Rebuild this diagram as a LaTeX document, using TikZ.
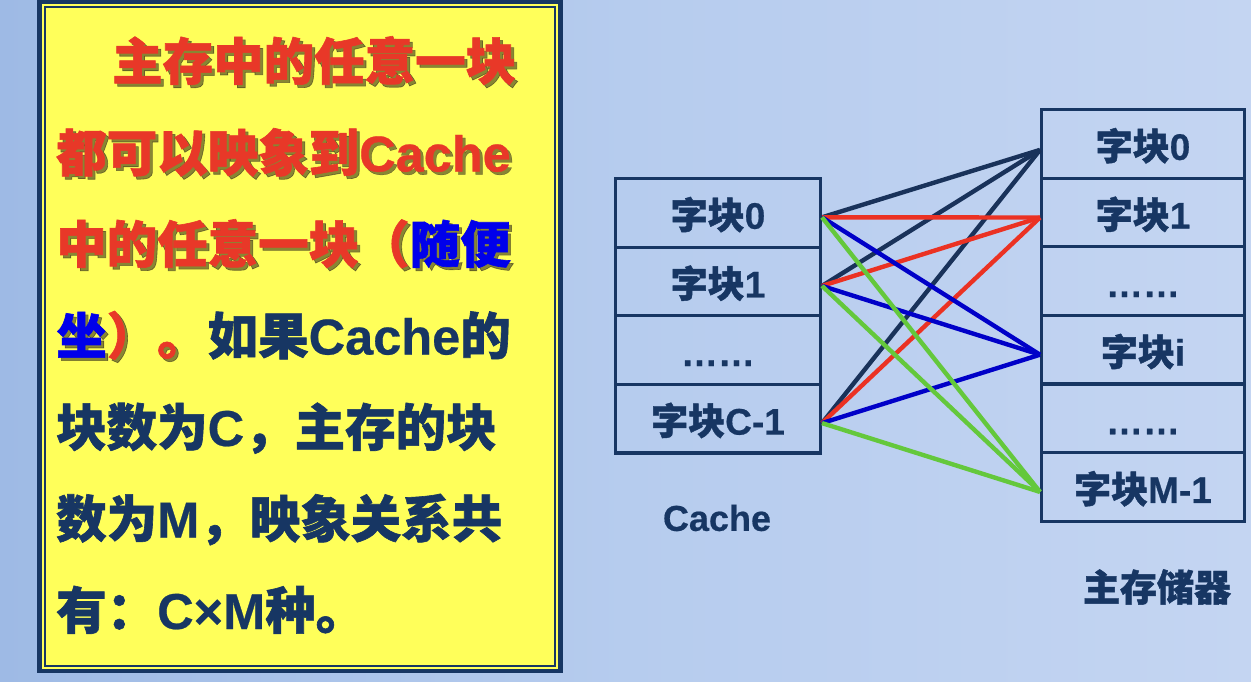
\documentclass[tikz,border=0pt]{standalone}
\usepackage{fontspec}
\setmainfont{Noto Sans CJK SC}[BoldFeatures={FakeBold=1.2}]
\newfontfamily\lat{Liberation Sans}[BoldFeatures={FakeBold=0.5}]

\definecolor{navy}{RGB}{23,54,99}
\definecolor{notered}{RGB}{232,56,40}
\definecolor{noteblue}{RGB}{0,0,235}
\definecolor{noteyellow}{RGB}{255,255,90}
\definecolor{shadowc}{RGB}{40,35,20}
\definecolor{linkred}{RGB}{235,50,35}
\definecolor{linkblue}{RGB}{0,0,200}
\definecolor{linkgreen}{RGB}{100,200,60}
\definecolor{linknavy}{RGB}{25,50,90}
\definecolor{bgleft}{RGB}{158,186,229}
\definecolor{bgmid}{RGB}{182,204,238}
\definecolor{bgright}{RGB}{196,213,242}

% coloured text pieces; in the shadow pass red/blue become the shadow, navy is skipped
\newif\ifshadowpass
\newcommand\rd[1]{\ifshadowpass\textcolor{shadowc}{#1}\else\textcolor{notered}{#1}\fi}
\newcommand\bl[1]{\ifshadowpass\textcolor{shadowc}{#1}\else\textcolor{noteblue}{#1}\fi}
\newcommand\nv[1]{\ifshadowpass\phantom{#1}\else\textcolor{navy}{#1}\fi}

\tikzset{
  cell/.style={draw=navy, line width=3.2pt, inner sep=0pt,
    minimum height=68.6pt, text=navy,
    font=\bfseries\fontsize{37}{37}\selectfont,
    text height=32pt, text depth=0pt},
  cachecell/.style={cell, minimum width=204.8pt},
  memcell/.style={cell, minimum width=202.8pt},
  noteline/.style={anchor=base west, inner sep=0pt,
    font=\bfseries\fontsize{50.5}{50.5}\selectfont},
  link/.style={line width=4.4pt},
  caption/.style={text=navy, inner sep=0pt}
}

% one line of the note, drawn with its drop shadow
\newcommand\noteline[4]{%
  \node[noteline, opacity=.55, xshift=3pt, yshift=-3pt] (#1s) at (#2,#3) {\shadowpasstrue #4};
  \node[noteline] (#1) at (#2,#3) {#4};}

\begin{document}
\begin{tikzpicture}[x=1pt,y=-1pt]
\useasboundingbox (0,0) rectangle (1251,681);

% background
\shade[left color=bgleft, right color=bgmid] (0,0) rectangle (626,681);
\shade[left color=bgmid, right color=bgright] (625.5,0) rectangle (1251,681);

% note frame
\node[fill=navy, minimum width=526pt, minimum height=673pt, inner sep=0pt, anchor=north west] (frame) at (37,0) {};
\fill[noteyellow] (42,4) rectangle (558,669);
\draw[navy, line width=1.6pt] (45,7) rectangle (555,666);

% note text
\noteline{l1}{112}{80}{\rd{主存中的任意一块}}
\noteline{l2}{56}{171.5}{\rd{都可以映象到{\lat Cache}}}
\noteline{l3}{56}{263}{\rd{中的任意一块（}\bl{随便}}
\noteline{l4}{56}{354.5}{\bl{坐}\rd{）。}\nv{如果{\lat Cache}的}}
\noteline{l5}{56}{446}{\nv{块数为{\lat C}，主存的块}}
\noteline{l6}{56}{537.5}{\nv{数为{\lat M}，映象关系共}}
\noteline{l7}{56}{629}{\nv{有：{\lat C×M}种。}}

% cache blocks
\node[cachecell] (c0) at (718,212.8) {字块{\lat 0}};
\node[cachecell] (c1) at (718,281.4) {字块{\lat 1}};
\node[cachecell] (c2) at (718,350.0) {{\lat ……}};
\node[cachecell] (c3) at (718,418.6) {字块{\lat C-1}};

% main memory blocks
\node[memcell] (m0) at (1143,143.9) {字块{\lat 0}};
\node[memcell] (m1) at (1143,212.5) {字块{\lat 1}};
\node[memcell] (m2) at (1143,281.1) {{\lat ……}};
\node[memcell] (m3) at (1143,349.7) {字块{\lat i}};
\node[memcell] (m4) at (1143,418.3) {{\lat ……}};
\node[memcell] (m5) at (1143,486.9) {字块{\lat M-1}};

% labels
\node[caption, font=\lat\bfseries\fontsize{36}{36}\selectfont] (cachelbl) at (717,518) {Cache};
\node[caption, font=\bfseries\fontsize{37}{37}\selectfont] (memlbl) at (1157,587) {主存储器};

% every cache block may go to any memory block
\foreach \c in {c0,c1,c3}{
  \draw[link, linknavy] ([yshift=-4.5pt]\c.east) -- ([yshift=-6pt]m0.west);
}
\foreach \c in {c0,c1,c3}{
  \draw[link, linkred] ([yshift=-4.5pt]\c.east) -- ([yshift=-5pt]m1.west);
}
\foreach \c in {c0,c1,c3}{
  \draw[link, linkblue] ([yshift=-4.5pt]\c.east) -- ([yshift=-5pt]m3.west);
}
\foreach \c in {c0,c1,c3}{
  \draw[link, linkgreen] ([yshift=-4.5pt]\c.east) -- ([yshift=-5pt]m5.west);
}
\end{tikzpicture}
\end{document}
